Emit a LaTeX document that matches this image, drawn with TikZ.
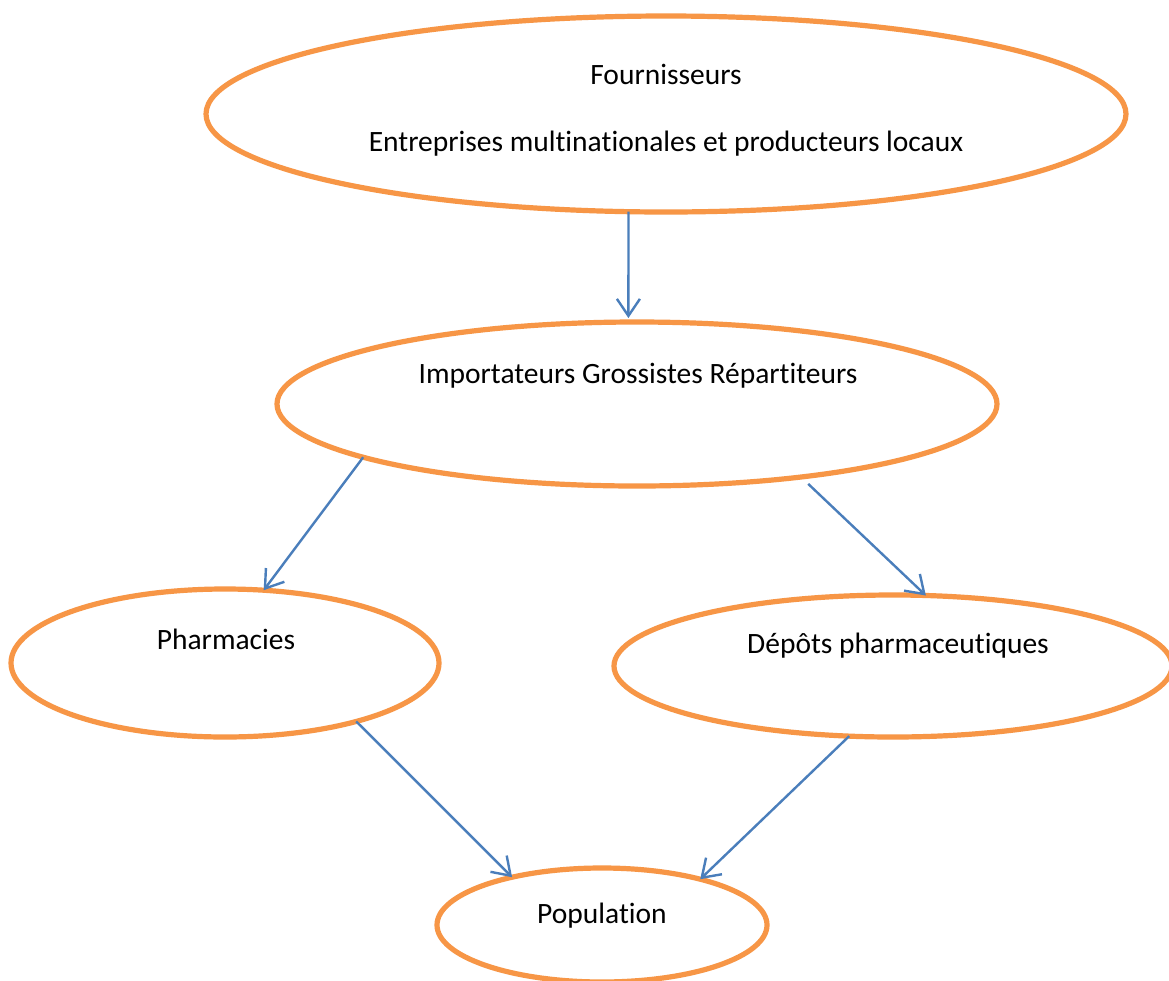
\documentclass[tikz,border=0pt]{standalone}
\usepackage{fontspec}
\setmainfont[Ligatures={NoCommon}]{Carlito}
\usetikzlibrary{shapes.geometric,arrows.meta}
\definecolor{orangeC}{HTML}{F79646}
\definecolor{blueC}{HTML}{4A7EBB}
\tikzset{
  ell/.style={draw=orangeC, line width=2.6pt, ellipse, inner sep=0pt, outer sep=0pt},
  lbl/.style={anchor=base, inner sep=0pt, font=\fontsize{14.75pt}{18pt}\selectfont, text=black},
  flow/.style={draw=blueC, line width=1.2pt, -{Straight Barb[length=8.5pt,width=11.5pt]}}
}
\begin{document}
\begin{tikzpicture}[x=0.5pt,y=-0.5pt]
\useasboundingbox (0,0) rectangle (1169,981);
\clip (0,0) rectangle (1169,981);
\fill[white] (0,0) rectangle (1169,981);
% ellipses
\node[ell, minimum width=460pt, minimum height=98pt] (four) at (666,114) {};
\node[ell, minimum width=360pt, minimum height=82pt] (imp) at (637,404) {};
\node[ell, minimum width=214pt, minimum height=74pt] (pha) at (225,663) {};
\node[ell, minimum width=279pt, minimum height=71pt] (dep) at (893,666) {};
\node[ell, minimum width=165pt, minimum height=57pt] (pop) at (602,925) {};
% labels
\node[lbl] (t1) at (666,84) {Fournisseurs};
\node[lbl] (t2) at (666,151) {Entreprises multinationales et producteurs locaux};
\node[lbl] (t3) at (638,383) {Importateurs Grossistes Répartiteurs};
\node[lbl] (t4) at (226,649) {Pharmacies};
\node[lbl] (t5) at (898,653) {Dépôts pharmaceutiques};
\node[lbl] (t6) at (602,923) {Population};
% connectors
\draw[flow, shorten >=2pt] (four.249) -- (imp.96);
\draw[flow] (imp.191.4) -- (pha.62);
\draw[flow, shorten <=5pt] (imp.336.2) -- (dep.65.7);
\draw[flow] (pha.336.2) -- (pop.152.7);
\draw[flow] (dep.238.2) -- (pop.25.4);
\end{tikzpicture}
\end{document}
